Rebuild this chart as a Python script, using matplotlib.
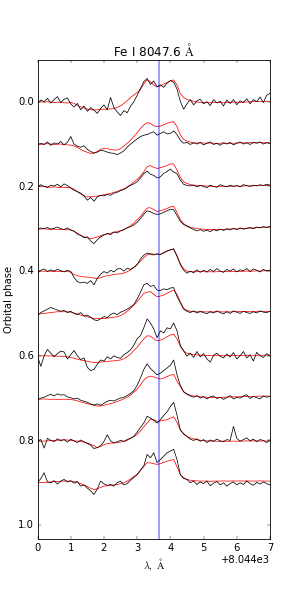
import numpy as np
import matplotlib
matplotlib.use("Agg")
import matplotlib.pyplot as plt

plt.style.use('classic')

# wavelength grid (offset from 8044 A)
lam_offset = 8044.0
lam_rel = np.round(np.arange(0, 7.01, 0.1), 2)
line_center = 8047.65
phases = [0.0, 0.1, 0.2, 0.3, 0.4, 0.5, 0.6, 0.7, 0.8, 0.9]

model_00 = [1.000, 1.000, 0.998, 1.000, 0.998, 0.996, 0.998, 0.996, 0.995, 0.994,
            0.997, 0.992, 0.984, 0.976, 0.970, 0.965, 0.962, 0.961, 0.962, 0.964,
            0.965, 0.965, 0.966, 0.968, 0.973, 0.980, 0.992, 1.005, 1.020, 1.032,
            1.044, 1.058, 1.084, 1.103, 1.095, 1.079, 1.071, 1.074, 1.084, 1.090,
            1.098, 1.103, 1.079, 1.039, 1.020, 1.011, 1.005, 1.002,
            0.998, 0.997, 0.996, 0.996, 0.995, 0.996, 0.997, 0.996, 0.995, 0.996, 0.997, 0.998,
            0.998, 0.997, 0.998, 0.999, 1.000, 1.000, 1.001, 1.000, 1.001, 1.002, 1.002]
obs_00 = [0.992, 1.008, 1.000, 1.016, 0.994, 1.010, 1.024, 0.996, 1.012, 1.018,
          0.990, 0.975, 0.992, 0.962, 0.980, 0.955, 0.972, 0.960, 0.945, 0.968,
          0.985, 0.962, 1.020, 0.972, 0.952, 0.935, 0.958, 0.948, 0.978, 1.000,
          1.030, 1.062, 1.095, 1.110, 1.082, 1.098, 1.070, 1.080, 1.068, 1.088,
          1.100, 1.092, 1.060, 1.002, 0.965, 0.990, 1.010, 0.985,
          1.004, 1.012, 0.990, 1.000, 0.982, 1.010, 0.994, 1.002, 0.980, 1.008, 0.992, 1.010,
          0.986, 1.004, 0.996, 1.014, 0.990, 1.010, 1.000, 1.022, 0.996, 1.030, 1.040]

model_01 = [1.000, 0.998, 1.000, 1.002, 1.000, 0.998, 1.000, 1.000, 0.998, 0.996,
            0.995, 0.991, 0.984, 0.975, 0.967, 0.961, 0.956, 0.957, 0.965, 0.975,
            0.979, 0.978, 0.975, 0.972, 0.972, 0.978, 0.991, 1.003, 1.019, 1.035,
            1.054, 1.074, 1.090, 1.101, 1.098, 1.087, 1.082, 1.085, 1.091, 1.098,
            1.103, 1.106, 1.082, 1.043, 1.022, 1.014, 1.009, 1.006,
            1.005, 1.006, 1.005, 1.004, 1.005, 1.004, 1.003, 1.004, 1.005, 1.004, 1.003, 1.004,
            1.005, 1.006, 1.005, 1.006, 1.007, 1.006, 1.006, 1.007, 1.006, 1.007, 1.006]
obs_01 = [0.996, 1.004, 0.998, 1.010, 0.994, 1.006, 1.000, 1.012, 0.996, 1.008,
          1.036, 1.000, 0.990, 0.985, 0.992, 0.975, 0.965, 0.958, 0.962, 0.970,
          0.968, 0.962, 0.958, 0.956, 0.950, 0.958, 0.968, 0.985, 1.000, 1.012,
          1.025, 1.035, 1.042, 1.045, 1.052, 1.058, 1.042, 1.050, 1.058, 1.048,
          1.050, 1.062, 1.045, 1.018, 1.004, 1.008, 0.998, 1.006,
          1.000, 1.008, 0.996, 1.004, 1.010, 0.998, 1.004, 0.994, 1.006, 1.000, 1.008, 0.996,
          1.004, 1.010, 1.000, 1.006, 0.998, 1.008, 1.004, 1.010, 1.000, 1.006, 1.002]

model_02 = [1.000, 0.998, 1.000, 0.998, 0.996, 0.998, 0.996, 0.994, 0.996, 0.994,
            0.995, 0.987, 0.975, 0.964, 0.956, 0.951, 0.951, 0.953, 0.954, 0.957,
            0.961, 0.964, 0.967, 0.972, 0.976, 0.983, 0.989, 0.997, 1.008, 1.021,
            1.033, 1.049, 1.069, 1.093, 1.099, 1.090, 1.085, 1.088, 1.093, 1.099,
            1.106, 1.106, 1.077, 1.043, 1.022, 1.014, 1.009, 1.006,
            1.005, 1.004, 1.003, 1.002, 1.001, 1.000, 0.999, 1.000, 1.001, 1.000, 1.000, 1.001,
            1.002, 1.001, 1.002, 1.003, 1.002, 1.003, 1.004, 1.003, 1.004, 1.005, 1.004]
obs_02 = [0.996, 1.008, 1.000, 0.994, 1.006, 1.002, 1.010, 0.998, 1.012, 1.004,
          0.992, 0.982, 0.975, 0.968, 0.955, 0.935, 0.948, 0.930, 0.950, 0.958,
          0.955, 0.962, 0.958, 0.968, 0.972, 0.980, 0.985, 0.995, 1.005, 1.012,
          1.022, 1.040, 1.060, 1.072, 1.058, 1.052, 1.040, 1.045, 1.062, 1.070,
          1.082, 1.068, 1.060, 1.030, 1.010, 1.005, 1.002, 1.006,
          0.998, 1.004, 1.000, 0.994, 1.006, 1.000, 0.996, 1.008, 1.002, 0.998, 1.006, 1.000,
          1.004, 0.998, 1.008, 1.004, 1.000, 1.006, 1.002, 1.008, 1.004, 1.010, 1.006]

model_03 = [1.000, 0.998, 1.000, 0.998, 0.997, 0.998, 0.996, 0.997, 0.996, 0.995,
            0.995, 0.989, 0.979, 0.970, 0.962, 0.957, 0.954, 0.956, 0.961, 0.967,
            0.972, 0.975, 0.979, 0.983, 0.987, 0.991, 0.995, 1.005, 1.014, 1.027,
            1.043, 1.058, 1.079, 1.098, 1.099, 1.090, 1.082, 1.085, 1.090, 1.096,
            1.103, 1.106, 1.077, 1.043, 1.024, 1.014, 1.008, 1.003,
            1.001, 0.999, 0.998, 0.997, 0.996, 0.996, 0.997, 0.996, 0.997, 0.998, 0.999, 1.000,
            0.999, 1.000, 1.001, 1.002, 1.003, 1.004, 1.005, 1.006, 1.007, 1.008, 1.006]
obs_03 = [0.996, 1.004, 1.000, 1.006, 0.998, 1.002, 1.008, 1.000, 0.996, 1.004,
          0.994, 0.988, 0.975, 0.968, 0.958, 0.962, 0.942, 0.930, 0.948, 0.962,
          0.970, 0.978, 0.972, 0.985, 0.980, 0.990, 0.996, 1.004, 1.010, 1.018,
          1.030, 1.048, 1.068, 1.085, 1.080, 1.072, 1.068, 1.070, 1.078, 1.085,
          1.092, 1.090, 1.062, 1.035, 1.020, 1.012, 1.004, 0.996,
          0.990, 0.996, 0.988, 0.994, 0.986, 0.996, 0.990, 0.998, 0.992, 1.000, 0.994, 1.002,
          0.996, 1.004, 0.998, 1.002, 1.006, 1.000, 1.008, 1.004, 1.010, 1.006, 1.012]

model_04 = [1.000, 1.000, 0.999, 1.000, 0.999, 0.998, 0.999, 0.998, 0.999, 0.998,
            0.995, 0.984, 0.978, 0.975, 0.972, 0.972, 0.970, 0.967, 0.965, 0.968,
            0.975, 0.978, 0.981, 0.984, 0.986, 0.987, 0.991, 0.997, 1.006, 1.016,
            1.032, 1.047, 1.063, 1.076, 1.082, 1.080, 1.079, 1.079, 1.085, 1.095,
            1.101, 1.101, 1.074, 1.035, 1.011, 1.000, 0.997, 0.997,
            0.997, 0.998, 0.997, 0.996, 0.997, 0.996, 0.997, 0.998, 0.997, 0.998, 0.997, 0.998,
            0.999, 0.998, 0.999, 1.000, 0.999, 1.000, 1.001, 1.000, 1.001, 1.002, 1.001]
obs_04 = [0.990, 1.004, 1.010, 0.998, 1.006, 1.000, 1.008, 1.002, 0.996, 1.004,
          0.998, 0.970, 0.950, 0.944, 0.948, 0.942, 0.955, 0.935, 0.965, 0.985,
          0.998, 0.990, 1.004, 0.996, 1.010, 1.012, 1.000, 1.014, 1.008, 1.018,
          1.030, 1.058, 1.075, 1.085, 1.080, 1.076, 1.082, 1.078, 1.088, 1.094,
          1.100, 1.106, 1.070, 1.030, 1.004, 0.990, 1.000, 0.992,
          1.006, 0.994, 1.004, 0.996, 1.008, 0.998, 1.012, 1.000, 0.994, 1.008, 1.000, 1.010,
          0.996, 1.006, 1.002, 1.012, 0.998, 1.010, 1.004, 0.996, 1.008, 1.000, 1.004]

model_05 = [0.997, 0.998, 1.000, 1.002, 1.004, 1.006, 1.008, 1.008, 1.008, 1.008,
            1.006, 1.002, 0.998, 0.992, 0.988, 0.984, 0.980, 0.976, 0.976, 0.976,
            0.976, 0.978, 0.980, 0.982, 0.984, 0.990, 0.998, 1.010, 1.024, 1.040,
            1.055, 1.075, 1.095, 1.100, 1.103, 1.090, 1.079, 1.082, 1.087, 1.095,
            1.103, 1.110, 1.090, 1.055, 1.024, 1.015, 1.010, 1.008,
            1.008, 1.007, 1.008, 1.007, 1.008, 1.007, 1.008, 1.008, 1.007, 1.008, 1.007, 1.008,
            1.008, 1.009, 1.008, 1.009, 1.008, 1.009, 1.010, 1.009, 1.010, 1.009, 1.010]
obs_05 = [0.990, 1.004, 1.012, 1.020, 1.028, 1.022, 1.016, 1.010, 1.014, 1.004,
          1.010, 1.000, 0.994, 1.004, 0.988, 0.992, 0.982, 0.970, 0.966, 0.975,
          0.985, 0.980, 0.995, 1.002, 0.994, 1.006, 1.012, 1.020, 1.030, 1.042,
          1.068, 1.100, 1.135, 1.142, 1.128, 1.132, 1.110, 1.108, 1.116, 1.112,
          1.120, 1.122, 1.080, 1.050, 1.020, 1.010, 1.004, 1.012,
          1.002, 1.010, 1.004, 0.998, 1.008, 1.002, 1.012, 1.004, 0.998, 1.008, 1.000, 1.012,
          1.006, 1.000, 1.010, 1.004, 1.000, 1.008, 1.002, 1.012, 1.006, 1.004, 1.010]

model_06 = [1.000, 1.000, 0.999, 1.000, 0.999, 1.000, 0.998, 0.998, 0.996, 0.995,
            0.992, 0.988, 0.984, 0.980, 0.977, 0.974, 0.971, 0.968, 0.968, 0.970,
            0.972, 0.973, 0.975, 0.976, 0.978, 0.980, 0.986, 0.995, 1.008, 1.025,
            1.040, 1.060, 1.080, 1.094, 1.093, 1.080, 1.071, 1.074, 1.080, 1.090,
            1.098, 1.102, 1.080, 1.045, 1.022, 1.012, 1.008, 1.005,
            1.004, 1.003, 1.002, 1.002, 1.001, 1.000, 1.000, 1.001, 1.000, 1.000, 1.001, 1.000,
            1.001, 1.002, 1.001, 1.002, 1.003, 1.002, 1.002, 1.003, 1.002, 1.003, 1.002]
obs_06 = [0.998, 0.950, 1.000, 1.030, 1.012, 0.995, 1.010, 1.022, 1.018, 0.985,
          1.005, 1.025, 1.000, 0.982, 0.990, 0.945, 0.930, 0.935, 0.960, 0.980,
          0.975, 0.995, 0.985, 1.000, 0.992, 0.988, 1.005, 1.015, 1.028, 1.050,
          1.080, 1.095, 1.132, 1.174, 1.155, 1.127, 1.085, 1.118, 1.108, 1.132,
          1.127, 1.155, 1.118, 1.048, 1.024, 0.998, 1.012, 0.992,
          1.020, 0.995, 1.010, 0.985, 0.970, 1.002, 1.012, 0.998, 0.990, 1.008, 0.994, 1.015,
          0.985, 1.000, 1.020, 0.990, 1.004, 0.975, 1.016, 1.000, 0.992, 1.010, 1.000]

model_07 = [0.996, 0.995, 0.996, 0.995, 0.994, 0.995, 0.994, 0.994, 0.995, 0.994,
            0.993, 0.991, 0.987, 0.982, 0.978, 0.974, 0.970, 0.966, 0.962, 0.963,
            0.966, 0.970, 0.974, 0.978, 0.984, 0.990, 0.996, 1.004, 1.014, 1.028,
            1.042, 1.062, 1.085, 1.098, 1.104, 1.100, 1.095, 1.090, 1.095, 1.102,
            1.108, 1.112, 1.080, 1.055, 1.030, 1.020, 1.014, 1.010,
            1.008, 1.006, 1.005, 1.004, 1.003, 1.002, 1.002, 1.003, 1.004, 1.005, 1.005, 1.006,
            1.006, 1.007, 1.007, 1.008, 1.008, 1.008, 1.009, 1.009, 1.009, 1.010, 1.009]
obs_07 = [0.992, 1.000, 1.004, 1.012, 1.018, 1.010, 1.020, 1.014, 1.016, 1.006,
          1.002, 0.996, 1.000, 0.990, 0.985, 0.980, 0.972, 0.968, 0.972, 0.966,
          0.975, 0.985, 0.990, 0.986, 0.994, 1.000, 1.004, 1.012, 1.022, 1.035,
          1.060, 1.095, 1.135, 1.162, 1.140, 1.125, 1.110, 1.118, 1.130, 1.142,
          1.155, 1.180, 1.110, 1.060, 1.030, 1.018, 1.010, 1.004,
          1.012, 1.000, 1.008, 0.996, 1.006, 1.010, 0.998, 1.004, 0.994, 1.002, 1.012, 0.996,
          1.004, 1.000, 1.010, 1.016, 0.998, 1.008, 1.002, 0.996, 1.010, 1.004, 1.008]

model_08 = [0.996, 0.996, 0.997, 0.998, 0.999, 1.000, 1.001, 1.002, 1.003, 1.002,
            1.000, 0.998, 0.997, 0.995, 0.992, 0.988, 0.982, 0.975, 0.966, 0.972,
            0.980, 0.985, 0.987, 0.988, 0.990, 0.993, 0.995, 1.000, 1.010, 1.018,
            1.028, 1.045, 1.065, 1.082, 1.100, 1.098, 1.090, 1.092, 1.095, 1.098,
            1.105, 1.112, 1.085, 1.050, 1.032, 1.019, 1.012, 1.008,
            1.003, 1.001, 0.999, 0.998, 0.997, 0.997, 0.996, 0.996, 0.997, 0.996, 0.996, 0.997,
            0.996, 0.997, 0.997, 0.998, 0.997, 0.998, 0.998, 0.997, 0.998, 0.997, 0.998]
obs_08 = [0.996, 1.004, 0.964, 1.010, 1.000, 0.994, 1.008, 0.998, 1.004, 0.992,
          1.006, 0.998, 0.990, 1.002, 0.994, 0.985, 0.978, 0.962, 0.966, 0.975,
          0.995, 1.027, 0.998, 0.988, 0.994, 1.000, 0.996, 1.004, 1.010, 1.019,
          1.040, 1.062, 1.082, 1.114, 1.106, 1.095, 1.082, 1.098, 1.118, 1.135,
          1.160, 1.180, 1.120, 1.050, 1.030, 1.019, 1.006, 1.000,
          1.008, 0.996, 1.004, 0.990, 1.002, 0.996, 1.006, 0.998, 0.994, 1.004, 1.000, 1.066,
          1.010, 0.996, 1.004, 1.012, 0.998, 1.006, 0.994, 1.004, 1.000, 0.990, 1.002]

model_09 = [1.000, 1.001, 1.002, 1.003, 1.004, 1.005, 1.006, 1.007, 1.008, 1.008,
            1.008, 1.006, 1.002, 0.996, 0.990, 0.982, 0.974, 0.968, 0.972, 0.978,
            0.984, 0.986, 0.988, 0.990, 0.992, 0.996, 1.000, 1.008, 1.018, 1.030,
            1.039, 1.058, 1.078, 1.095, 1.094, 1.090, 1.087, 1.090, 1.096, 1.102,
            1.106, 1.110, 1.075, 1.039, 1.024, 1.016, 1.012, 1.010,
            1.009, 1.008, 1.008, 1.008, 1.007, 1.008, 1.008, 1.008, 1.009, 1.008, 1.008, 1.009,
            1.008, 1.009, 1.008, 1.009, 1.008, 1.008, 1.008, 1.009, 1.008, 1.008, 1.008]
obs_09 = [1.000, 1.020, 1.047, 1.004, 1.000, 1.010, 0.994, 1.008, 1.016, 1.004,
          1.010, 0.998, 1.006, 0.984, 0.990, 0.975, 0.962, 0.945, 0.970, 1.008,
          0.995, 0.988, 0.992, 0.984, 1.000, 1.008, 0.990, 0.996, 1.012, 1.025,
          1.039, 1.060, 1.079, 1.134, 1.118, 1.142, 1.095, 1.110, 1.126, 1.142,
          1.150, 1.158, 1.110, 1.039, 1.020, 1.016, 1.000, 1.008,
          0.992, 1.004, 0.996, 1.008, 0.986, 0.998, 1.006, 0.990, 1.000, 0.984, 0.996, 1.004,
          0.990, 1.000, 0.992, 1.008, 0.996, 0.988, 1.002, 0.994, 1.004, 0.996, 0.990]

models = [model_00, model_01, model_02, model_03, model_04,
          model_05, model_06, model_07, model_08, model_09]
observed = [obs_00, obs_01, obs_02, obs_03, obs_04,
            obs_05, obs_06, obs_07, obs_08, obs_09]

title_text = 'Fe I 8047.6 $\\mathrm{\\AA}$'
xlabel_text = '$\\lambda,\\ \\mathrm{\\AA}$'
ylabel_text = 'Orbital phase'

scale = 0.5

fig = plt.figure(figsize=(5, 9.985), dpi=60)
ax = fig.add_subplot(111)
wl = lam_offset + lam_rel
for ph, mod, obs in zip(phases, models, observed):
    ax.plot(wl, ph - (np.array(mod) - 1.0) * scale, color='r', lw=0.9)
    ax.plot(wl, ph - (np.array(obs) - 1.0) * scale, color='k', lw=0.9)
ax.axvline(line_center, color='b', alpha=0.45, lw=2)
ax.set_xlim(8044, 8051)
ax.set_ylim(1.033, -0.099)
ax.set_yticks([0.0, 0.2, 0.4, 0.6, 0.8, 1.0])
ax.set_xticks(np.arange(8044, 8052, 1))
ax.ticklabel_format(axis='x', useOffset=lam_offset)
ax.set_title(title_text)
ax.set_xlabel(xlabel_text)
ax.set_ylabel(ylabel_text)
fig.savefig('out.png', dpi=60)
